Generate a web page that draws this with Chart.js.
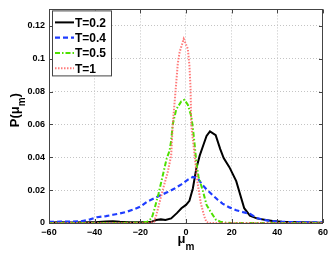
<!DOCTYPE html>
<html>
<head>
<meta charset="utf-8">
<script src="https://cdn.jsdelivr.net/npm/chart.js@4"></script>
<style>
  html, body { margin: 0; padding: 0; background: #fff; }
  #wrap { width: 332px; height: 256px; position: relative; }
</style>
</head>
<body>
<div id="wrap"><canvas id="chart" width="332" height="256"></canvas></div>
<script>
// series values
const muT02 = [-60, -55, -50, -45, -40, -35, -32, -29, -25, -20, -17, -15, -13, -11, -9, -6.5, -4, -2, 0, 1.5, 3, 4.5, 6, 7.5, 9, 10.5, 13, 15, 16.5, 19, 22, 25.5, 28, 31, 35, 38, 42, 46, 50, 55, 60];
const pT02 = [0.0003, 0.0004, 0.0003, 0.0004, 0.0005, 0.0009, 0.0011, 0.0007, 0.0005, 0.0005, 0.0006, 0.0008, 0.0018, 0.0022, 0.0018, 0.0028, 0.006, 0.009, 0.011, 0.0135, 0.021, 0.033, 0.041, 0.047, 0.053, 0.0558, 0.0535, 0.045, 0.0395, 0.034, 0.0255, 0.009, 0.0045, 0.0028, 0.0018, 0.0012, 0.0008, 0.0006, 0.0004, 0.0003, 0.0002];

const muT04 = [-60, -55, -50, -46, -42, -39, -35, -32, -29, -26, -23, -20, -17, -14, -11, -8, -5, -2, 1, 3, 5, 7, 9, 11.5, 14, 16, 19, 22, 25, 28, 31, 34, 37, 40, 45, 50, 55, 60];
const pT04 = [0.0007, 0.0008, 0.0008, 0.001, 0.0022, 0.0035, 0.0042, 0.005, 0.0058, 0.0068, 0.0082, 0.01, 0.013, 0.015, 0.017, 0.0188, 0.021, 0.0235, 0.0265, 0.028, 0.0275, 0.0235, 0.0205, 0.0172, 0.014, 0.0118, 0.0095, 0.0078, 0.0066, 0.0056, 0.003, 0.002, 0.0012, 0.0008, 0.0006, 0.0005, 0.0004, 0.0004];

const muT05 = [-60, -30, -20, -17, -15, -14, -12, -10, -8.5, -7.2, -6.5, -5.8, -4.3, -2.1, -0.7, 0.8, 2.3, 3, 3.7, 4.6, 5.5, 7.3, 9, 10.5, 13, 15, 17.5, 20, 60];
const pT05 = [0, 0, 0.0002, 0.0008, 0.003, 0.0075, 0.018, 0.03, 0.039, 0.044, 0.05, 0.06, 0.069, 0.074, 0.075, 0.072, 0.065, 0.058, 0.049, 0.036, 0.028, 0.02, 0.011, 0.0075, 0.0022, 0.0008, 0.0002, 0, 0];

const muT1 = [-60, -16, -14, -13, -11.5, -10, -8, -6.5, -5.8, -4.6, -3.6, -2.8, -1, 0.8, 1.5, 2, 2.3, 3.7, 5.1, 6.5, 8, 9, 10, 60];
const pT1 = [0, 0, 0.0008, 0.0048, 0.013, 0.021, 0.031, 0.041, 0.06, 0.08, 0.097, 0.104, 0.112, 0.106, 0.096, 0.082, 0.06, 0.042, 0.024, 0.012, 0.004, 0.0005, 0, 0];

const seriesLabels = ['T=0.2', 'T=0.4', 'T=0.5', 'T=1'];
const xTicks = [-60, -40, -20, 0, 20, 40, 60];
const yTicks = [0, 0.02, 0.04, 0.06, 0.08, 0.1, 0.12];

const toPts = (xs, ys) => xs.map((x, i) => ({ x: x, y: ys[i] }));

const tickFont = { family: 'Liberation Sans, Arial, sans-serif', size: 9, weight: 'bold' };

// frame, inward ticks, axis titles and legend box (matlab look)
const matlabDecor = {
    id: 'matlabDecor',
    afterDraw(chart) {
        const ctx = chart.ctx;
        const a = chart.chartArea;
        const xs = chart.scales.x, ys = chart.scales.y;
        ctx.save();
        ctx.strokeStyle = '#444';
        ctx.lineWidth = 1;
        ctx.setLineDash([]);
        ctx.strokeRect(Math.round(a.left) + 0.5, Math.round(a.top) + 0.5, Math.round(a.right - a.left) - 1, Math.round(a.bottom - a.top));
        ctx.beginPath();
        xTicks.forEach((t) => {
            const px = Math.round(xs.getPixelForValue(t)) + 0.5;
            ctx.moveTo(px, a.bottom); ctx.lineTo(px, a.bottom - 4);
            ctx.moveTo(px, a.top); ctx.lineTo(px, a.top + 4);
        });
        yTicks.forEach((t) => {
            const py = Math.round(ys.getPixelForValue(t)) + 0.5;
            ctx.moveTo(a.left, py); ctx.lineTo(a.left + 4, py);
            ctx.moveTo(a.right, py); ctx.lineTo(a.right - 4, py);
        });
        ctx.stroke();

        // axis titles with subscripts
        ctx.fillStyle = '#000';
        ctx.textBaseline = 'alphabetic';
        const big = 'bold 13px Liberation Sans, Arial, sans-serif';
        const small = 'bold 10px Liberation Sans, Arial, sans-serif';
        // x title
        ctx.font = big;
        const muW = ctx.measureText('\u03bc').width;
        ctx.font = small;
        const mW = ctx.measureText('m').width;
        let x0 = (a.left + a.right) / 2 - (muW + mW) / 2;
        ctx.font = big;
        ctx.textAlign = 'left';
        ctx.fillText('\u03bc', x0, 243);
        ctx.font = small;
        ctx.fillText('m', x0 + muW, 250);
        // y title
        ctx.save();
        ctx.translate(19, (a.top + a.bottom) / 2 - 6);
        ctx.rotate(-Math.PI / 2);
        ctx.font = big;
        const pW = ctx.measureText('P(\u03bc').width;
        const cW = ctx.measureText(')').width;
        ctx.font = small;
        const m2 = ctx.measureText('m').width;
        let s = -(pW + m2 + cW) / 2;
        ctx.font = big;
        ctx.fillText('P(\u03bc', s, 0);
        ctx.font = small;
        ctx.fillText('m', s + pW, 6);
        ctx.font = big;
        ctx.fillText(')', s + pW + m2, 0);
        ctx.restore();

        // legend
        const lx = a.left + 3, ly = a.top + 1, lw = 59, lh = 65;
        ctx.fillStyle = '#fff';
        ctx.fillRect(lx, ly, lw, lh);
        ctx.strokeStyle = '#444';
        ctx.strokeRect(lx + 0.5, ly + 0.5, lw, lh);
        chart.data.datasets.forEach((ds, i) => {
            const yy = ly + 12 + i * 15.3;
            ctx.strokeStyle = ds.borderColor;
            ctx.lineWidth = ds.borderWidth;
            ctx.setLineDash(ds.borderDash || []);
            ctx.beginPath();
            ctx.moveTo(lx + 3, yy);
            ctx.lineTo(lx + 22, yy);
            ctx.stroke();
            ctx.setLineDash([]);
            ctx.fillStyle = '#000';
            ctx.font = 'bold 12px Liberation Sans, Arial, sans-serif';
            ctx.textAlign = 'left';
            ctx.textBaseline = 'middle';
            ctx.fillText(ds.label, lx + 23, yy + 1);
        });
        ctx.restore();
    }
};

new Chart(document.getElementById('chart').getContext('2d'), {
    type: 'line',
    data: {
        datasets: [
            { label: seriesLabels[0], data: toPts(muT02, pT02), borderColor: '#000000', borderWidth: 2, order: 3 },
            { label: seriesLabels[1], data: toPts(muT04, pT04), borderColor: '#1e3cff', borderWidth: 2.2, borderDash: [5, 3], order: 2 },
            { label: seriesLabels[2], data: toPts(muT05, pT05), borderColor: '#4ee000', borderWidth: 2, borderDash: [5, 2, 1.5, 2], order: 1 },
            { label: seriesLabels[3], data: toPts(muT1, pT1), borderColor: 'rgba(255,90,90,0.8)', borderWidth: 2, borderDash: [1.5, 1.5], order: 0 }
        ]
    },
    options: {
        responsive: false,
        animation: false,
        events: [],
        layout: { padding: { top: 6, right: 8, left: 0, bottom: 0 } },
        elements: { point: { radius: 0 }, line: { tension: 0, fill: false } },
        plugins: { legend: { display: false }, tooltip: { enabled: false } },
        scales: {
            x: {
                type: 'linear',
                min: -60, max: 60,
                afterBuildTicks: (sc) => { sc.ticks = xTicks.map((v) => ({ value: v })); },
                afterFit: (sc) => { sc.height = 33; },
                grid: { color: '#c4c4c4', drawTicks: false, lineWidth: 1 },
                border: { display: false, dash: [1, 2] },
                ticks: { font: tickFont, color: '#000', padding: 4, maxRotation: 0, callback: (v) => String(v).replace('-', '\u2212') }
            },
            y: {
                type: 'linear',
                min: 0, max: 0.13,
                afterBuildTicks: (sc) => { sc.ticks = yTicks.map((v) => ({ value: v })); },
                afterFit: (sc) => { sc.width = 49; },
                grid: { color: '#c4c4c4', drawTicks: false, lineWidth: 1 },
                border: { display: false, dash: [1, 2] },
                ticks: { font: tickFont, color: '#000', padding: 4, callback: (v) => String(+v.toFixed(2)) }
            }
        }
    },
    plugins: [matlabDecor]
});
</script>
</body>
</html>
